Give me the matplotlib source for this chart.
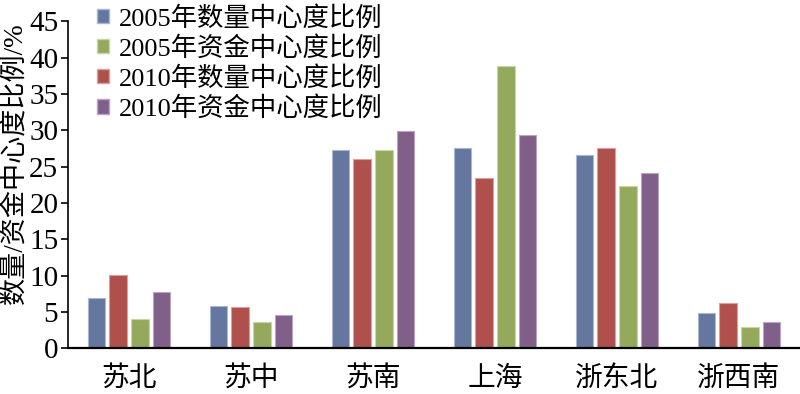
import numpy as np
import matplotlib
matplotlib.use("Agg")
import matplotlib.pyplot as plt
from matplotlib.patches import Patch

plt.rcParams['font.family'] = ['Liberation Serif', 'Noto Sans CJK SC', 'DejaVu Sans']

regions = ["苏北", "苏中", "苏南", "上海", "浙东北", "浙西南"]

# values (%)
num_2005 = [6.9, 5.8, 27.3, 27.6, 26.6, 4.9]
num_2010 = [10.1, 5.7, 26.1, 23.4, 27.6, 6.3]
cap_2005 = [4.1, 3.6, 27.3, 38.8, 22.4, 2.9]
cap_2010 = [7.8, 4.6, 29.9, 29.3, 24.1, 3.6]

labels = ["2005年数量中心度比例", "2010年数量中心度比例",
          "2005年资金中心度比例", "2010年资金中心度比例"]
colors = ["#65779f", "#af504d", "#95a95d", "#806089"]
edges = ["#a9b7d3", "#d9a09e", "#c8d6a6", "#b9a3c8"]
series = [num_2005, num_2010, cap_2005, cap_2010]

fig = plt.figure(figsize=(8, 3.94), dpi=100)
ax = fig.add_axes([0.085, 0.116, 0.915, 0.83])

x = np.arange(len(regions))
width = 0.14
step = 0.18
offsets = (np.arange(4) - 1.5) * step
for vals, off, c, e in zip(series, offsets, colors, edges):
    ax.bar(x + off, vals, width, color=c, edgecolor=e, linewidth=0.8)

ax.set_xlim(-0.5, len(regions) - 0.5)
ax.set_ylim(0, 45)
ax.set_yticks(range(0, 46, 5))
ax.set_xticks(x)
ax.set_xticklabels(regions, fontsize=20)
ax.tick_params(axis='x', length=0, pad=13)
ax.tick_params(axis='y', labelsize=21, length=5, width=1.2, direction='out', pad=2)
ax.spines['top'].set_visible(False)
ax.spines['right'].set_visible(False)
ax.spines['left'].set_linewidth(1.2)
ax.spines['bottom'].set_linewidth(1.6)

# y axis title, placed by hand to sit at the left edge
fig.text(0.018, 0.585, "数量/资金中心度比例/%", fontsize=19.5, rotation=90,
         ha='center', va='center')

# legend order differs from bar order
order = [0, 2, 1, 3]
handles = [Patch(facecolor=colors[i], edgecolor=edges[i]) for i in order]
ax.legend(handles, [labels[i] for i in order], loc='upper left',
          bbox_to_anchor=(0.025, 1.08), frameon=False, fontsize=19,
          handlelength=0.45, handleheight=0.45, handletextpad=0.4,
          labelspacing=0.2, borderaxespad=0)

fig.savefig("out.png", dpi=100)
